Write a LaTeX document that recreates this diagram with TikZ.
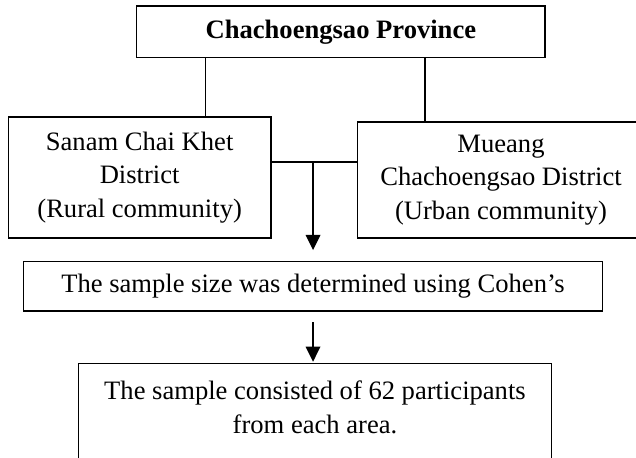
\documentclass[tikz,border=0pt]{standalone}
\usepackage{fontspec}
\setmainfont{Liberation Serif}
\usetikzlibrary{
    arrows.meta
}

\begin{document}
\begin{tikzpicture}[>={Triangle[width=6.6pt,length=6.8pt]},line width=0.6pt]
    \tikzstyle{every node}=[font=\fontsize{12}{15}\selectfont]
    \tikzstyle{box}=[draw, rectangle, align=center, inner sep=0pt]
    \useasboundingbox (0, 0) rectangle (10.092, -7.252);

	\node [box, font=\fontsize{12}{15}\selectfont\bfseries, minimum width=6.479cm, minimum height=0.821cm] (province) at (5.409, -0.505) {Chachoengsao Province};

	\node [box, minimum width=4.168cm, minimum height=1.920cm] (sanam) at (2.216, -2.817) {Sanam Chai Khet\\ District\\ (Rural community)};
	\node [box, minimum width=4.548cm, minimum height=1.841cm] (mueang) at (7.950, -2.856) {Mueang\\ Chachoengsao District\\ (Urban community)};

	\node [box, minimum width=9.194cm, minimum height=0.782cm] (sample) at (4.967, -4.544) {The sample size was determined using Cohen's};

	\node [box, anchor=north, minimum width=7.512cm, inner ysep=7.9pt] (size) at (4.998, -5.760) {\parbox[t][1.6cm][t]{7.2cm}{\centering The sample consisted of 62 participants\\ from each area.}};

	% province down to both districts
	\draw ([xshift=1.100cm]province.south west) -- ([xshift=1.100cm]province.south west |- sanam.north);
	\draw ([xshift=4.586cm]province.south west) -- ([xshift=4.586cm]province.south west |- mueang.north);

	% districts joined, then down to the sample size
	\coordinate (join) at ([yshift=0.246cm]sanam.east);
	\coordinate (split) at (join -| sample.north);
	\draw (join) -- (join -| mueang.west);
	\draw [->] (split) -- ([yshift=0.175cm]sample.north);
	\draw [->] ([yshift=-0.17cm]sample.south) -- ([yshift=0.02cm]size.north -| sample.south);
\end{tikzpicture}
\end{document}
